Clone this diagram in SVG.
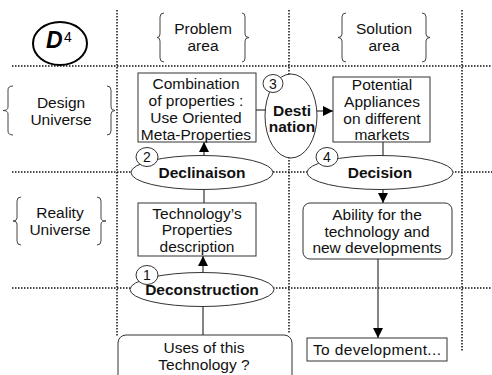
<svg xmlns="http://www.w3.org/2000/svg" width="492" height="375" viewBox="0 0 492 375">
<defs>
<marker id="ah" viewBox="0 0 10 10" refX="10" refY="5" markerWidth="10" markerHeight="10" markerUnits="userSpaceOnUse" orient="auto">
<path d="M0,0 L10,5 L0,10 Z" fill="#000"/>
</marker>
<style>
.t{font-family:"Liberation Sans",Arial,sans-serif;font-size:15.5px;fill:#111;text-anchor:middle}
.b{font-weight:bold}
.dot{stroke:#111;stroke-width:1.5;stroke-dasharray:1.5 1.5;fill:none}
.box{fill:#fff;stroke:#333;stroke-width:1}
.ell{fill:#fff;stroke:#333;stroke-width:1}
.brace{fill:none;stroke:#444;stroke-width:1}
.con{stroke:#333;stroke-width:1.2;fill:none}
.num{font-family:"Liberation Sans",Arial,sans-serif;font-size:14px;fill:#111;text-anchor:middle}
</style>
</defs>
<rect width="492" height="375" fill="#fff"/>

<g id="grid">
<line class="dot" x1="117" y1="10" x2="117" y2="337"/>
<line class="dot" x1="289" y1="10" x2="289" y2="333"/>
<line class="dot" x1="462" y1="10" x2="462" y2="352"/>
<line class="dot" x1="12" y1="66" x2="492" y2="66"/>
<line class="dot" x1="12" y1="172" x2="131" y2="172"/>
<line class="dot" x1="273" y1="172" x2="307" y2="172"/>
<line class="dot" x1="452" y1="172" x2="492" y2="172"/>
<line class="dot" x1="12" y1="288" x2="130" y2="288"/>
<line class="dot" x1="273" y1="288" x2="492" y2="288"/>
</g>

<g id="connectors">
<line class="con" x1="204" y1="156" x2="204" y2="142" marker-end="url(#ah)"/>
<line class="con" x1="204" y1="203" x2="204" y2="189"/>
<line class="con" x1="203" y1="272" x2="203" y2="256" marker-end="url(#ah)"/>
<line class="con" x1="203" y1="335" x2="203" y2="306"/>
<line class="con" x1="256" y1="110" x2="266" y2="110"/>
<line class="con" x1="317" y1="111" x2="333" y2="111" marker-end="url(#ah)"/>
<line class="con" x1="383" y1="142" x2="383" y2="156"/>
<line class="con" x1="383" y1="189" x2="383" y2="203" marker-end="url(#ah)"/>
<line class="con" x1="378" y1="259" x2="378" y2="338" marker-end="url(#ah)"/>
</g>

<g id="d4">
<ellipse cx="60" cy="43.5" rx="27" ry="21.5" fill="#fff" stroke="#000" stroke-width="2"/>
<text x="46" y="48" font-family="Liberation Sans, Arial, sans-serif" font-size="23" font-weight="bold" font-style="italic" fill="#000">D</text>
<text x="64" y="42" font-family="Liberation Sans, Arial, sans-serif" font-size="14" fill="#000">4</text>
</g>

<g id="problem-area">
<path class="brace" d="M164,13 Q160,13 160,17 L160,34 Q160,37.5 157,37.5 Q160,37.5 160,41 L160,58 Q160,62 164,62"/>
<path class="brace" d="M242,13 Q245,13 245,17 L245,34 Q245,37.5 249,37.5 Q245,37.5 245,41 L245,58 Q245,62 242,62"/>
<text class="t" x="203" y="34">Problem</text>
<text class="t" x="203" y="51">area</text>
</g>

<g id="solution-area">
<path class="brace" d="M346,13 Q342,13 342,17 L342,34 Q342,37.5 338,37.5 Q342,37.5 342,41 L342,58 Q342,62 346,62"/>
<path class="brace" d="M422,13 Q426,13 426,17 L426,34 Q426,37.5 430,37.5 Q426,37.5 426,41 L426,58 Q426,62 422,62"/>
<text class="t" x="384" y="34">Solution</text>
<text class="t" x="384" y="51">area</text>
</g>

<g id="design-universe">
<path class="brace" d="M13,86 Q8,86 8,90 L8,107 Q8,110.5 3,110.5 Q8,110.5 8,114 L8,131 Q8,135 13,135"/>
<path class="brace" d="M107,86 Q111,86 111,90 L111,107 Q111,110.5 115,110.5 Q111,110.5 111,114 L111,131 Q111,135 107,135"/>
<text class="t" x="61" y="108">Design</text>
<text class="t" x="61" y="125">Universe</text>
</g>

<g id="reality-universe">
<path class="brace" d="M21,197 Q17,197 17,201 L17,218 Q17,221 13,221 Q17,221 17,224 L17,241 Q17,245 21,245"/>
<path class="brace" d="M97,197 Q101,197 101,201 L101,218 Q101,221 106,221 Q101,221 101,224 L101,241 Q101,245 97,245"/>
<text class="t" x="60" y="218">Reality</text>
<text class="t" x="60" y="235">Universe</text>
</g>

<g id="combination">
<rect class="box" x="138" y="73" width="118" height="69"/>
<text class="t" x="196" y="89">Combination</text>
<text class="t" x="196" y="106">of properties :</text>
<text class="t" x="196" y="123">Use Oriented</text>
<text class="t" x="196" y="139.5">Meta-Properties</text>
</g>

<g id="destination">
<ellipse class="ell" cx="291" cy="116" rx="26" ry="42"/>
<text class="t b" x="292" y="116">Desti</text>
<text class="t b" x="292" y="132">nation</text>
<ellipse class="ell" cx="273" cy="83.5" rx="10" ry="9"/>
<text class="num" x="273" y="89">3</text>
</g>

<g id="potential">
<rect class="box" x="333" y="77" width="97" height="65"/>
<text class="t" x="382" y="90">Potential</text>
<text class="t" x="382" y="107">Appliances</text>
<text class="t" x="382" y="124">on different</text>
<text class="t" x="382" y="140">markets</text>
</g>

<g id="declinaison">
<ellipse class="ell" cx="202" cy="172.5" rx="71" ry="17"/>
<text class="t b" x="202" y="177.5">Declinaison</text>
<ellipse class="ell" cx="147" cy="157" rx="11" ry="9.5"/>
<text class="num" x="147" y="162">2</text>
</g>

<g id="decision">
<ellipse class="ell" cx="380" cy="172.5" rx="73" ry="17"/>
<text class="t b" x="380" y="177.5">Decision</text>
<ellipse class="ell" cx="327" cy="157" rx="11" ry="9.5"/>
<text class="num" x="327" y="162">4</text>
</g>

<g id="technology">
<rect class="box" x="138" y="203" width="118" height="53"/>
<text class="t" x="197" y="219">Technology’s</text>
<text class="t" x="197" y="235">Properties</text>
<text class="t" x="197" y="252">description</text>
</g>

<g id="ability">
<rect class="box" x="303" y="203" width="149" height="56" rx="7"/>
<text class="t" x="377" y="220">Ability for the</text>
<text class="t" x="377" y="237">technology and</text>
<text class="t" x="377" y="253">new developments</text>
</g>

<g id="deconstruction">
<ellipse class="ell" cx="202" cy="289.5" rx="72" ry="17"/>
<text class="t b" x="202" y="295">Deconstruction</text>
<ellipse class="ell" cx="147" cy="275" rx="11" ry="9.5"/>
<text class="num" x="147" y="280">1</text>
</g>

<g id="uses">
<rect class="box" x="118" y="335" width="174" height="60" rx="8"/>
<text class="t" x="204" y="353">Uses of this</text>
<text class="t" x="204" y="370">Technology ?</text>
</g>

<g id="to-development">
<rect class="box" x="307" y="338" width="140" height="23"/>
<text class="t" x="377" y="355" textLength="128">To development...</text>
</g>
</svg>
